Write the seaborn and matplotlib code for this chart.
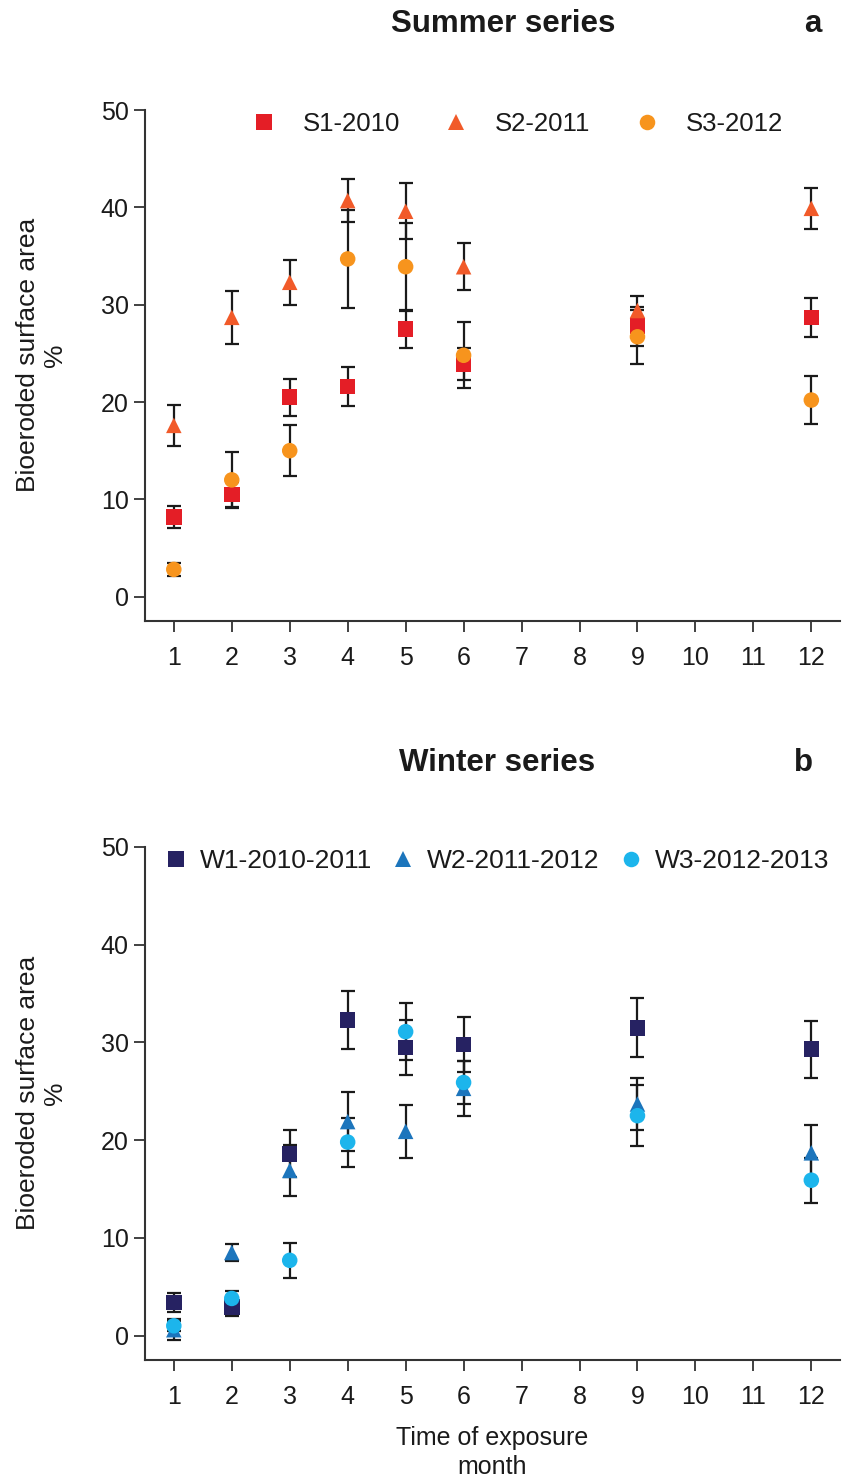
import pandas as pd
import seaborn as sns
import matplotlib.pyplot as plt
import numpy as np

months = [1, 2, 3, 4, 5, 6, 9, 12]

# summer series (mean, error)
s1 = [8.2, 10.5, 20.5, 21.6, 27.5, 23.9, 27.8, 28.7]
s1_err = [1.1, 1.3, 1.9, 2.0, 2.0, 1.6, 2.0, 2.0]
s2 = [17.6, 28.7, 32.3, 40.7, 39.6, 33.9, 29.4, 39.9]
s2_err = [2.1, 2.7, 2.3, 2.2, 2.9, 2.4, 1.5, 2.1]
s3 = [2.8, 12.0, 15.0, 34.7, 33.9, 24.8, 26.7, 20.2]
s3_err = [0.7, 2.9, 2.6, 5.0, 4.5, 3.4, 2.8, 2.5]

# winter series
w1 = [3.4, 2.9, 18.6, 32.3, 29.5, 29.8, 31.5, 29.3]
w1_err = [1.0, 0.9, 2.4, 3.0, 2.8, 2.8, 3.0, 2.9]
w2 = [0.6, 8.5, 16.9, 21.9, 20.9, 25.3, 23.7, 18.7]
w2_err = [1.1, 0.9, 2.6, 3.0, 2.7, 2.8, 2.7, 2.8]
w3 = [1.0, 3.8, 7.7, 19.8, 31.1, 25.9, 22.5, 15.9]
w3_err = [0.5, 0.8, 1.8, 2.5, 2.9, 2.2, 3.1, 2.3]

summer_names = ["S1-2010", "S2-2011", "S3-2012"]
winter_names = ["W1-2010-2011", "W2-2011-2012", "W3-2012-2013"]
summer_colors = ["#E41E26", "#F15A29", "#F7941D"]
winter_colors = ["#262262", "#1C75BC", "#1CB5EC"]
marker_list = ["s", "^", "o"]

sns.set_style("ticks")
plt.rcParams["font.family"] = ["Liberation Sans", "DejaVu Sans"]
plt.rcParams["text.color"] = "#1a1a1a"
plt.rcParams["axes.labelcolor"] = "#1a1a1a"
plt.rcParams["xtick.labelcolor"] = "#1a1a1a"
plt.rcParams["ytick.labelcolor"] = "#1a1a1a"


def build(names, vals, errs):
    rows = []
    for n, v, e in zip(names, vals, errs):
        for m, y, er in zip(months, v, e):
            rows.append({"month": m, "value": y, "err": er, "series": n})
    return pd.DataFrame(rows)


summer = build(summer_names, [s1, s2, s3], [s1_err, s2_err, s3_err])
winter = build(winter_names, [w1, w2, w3], [w1_err, w2_err, w3_err])

fig = plt.figure(figsize=(8.42, 14.81), dpi=100)
ax1 = fig.add_axes([0.172, 0.5807, 0.826, 0.345])
ax2 = fig.add_axes([0.172, 0.0817, 0.826, 0.3464])


def panel(ax, df, names, colors, leg_x, spacing, pad, legsize):
    for n in names:
        d = df[df.series == n]
        ax.errorbar(d.month, d.value, yerr=d.err, fmt="none", ecolor="#1a1a1a",
                    elinewidth=1.6, capsize=5, capthick=1.6, zorder=2)
    sns.scatterplot(data=df, x="month", y="value", hue="series", style="series",
                    hue_order=names, style_order=names,
                    palette=dict(zip(names, colors)),
                    markers=dict(zip(names, marker_list)),
                    s=125, edgecolor="none", linewidth=0, ax=ax, zorder=3)
    ax.set_xlim(0.5, 12.5)
    ax.set_ylim(-2.5, 50)
    ax.set_xticks(range(1, 13))
    ax.set_yticks([0, 10, 20, 30, 40, 50])
    ax.tick_params(axis="both", direction="out", length=8, width=1.3,
                   color="#333333", labelsize=18)
    ax.tick_params(axis="x", pad=10)
    for side in ["top", "right"]:
        ax.spines[side].set_visible(False)
    for side in ["left", "bottom"]:
        ax.spines[side].set_linewidth(1.5)
        ax.spines[side].set_color("#333333")
    ax.set_ylabel("Bioeroded surface area\n%", fontsize=19, linespacing=1.15)
    ax.yaxis.set_label_coords(-0.112, 0.52)
    ax.set_xlabel("")
    sns.move_legend(ax, "center", bbox_to_anchor=(leg_x, 0.972), ncol=3,
                    frameon=False, title=None, fontsize=legsize,
                    handletextpad=pad, columnspacing=spacing,
                    handlelength=1.0, markerscale=1.0)


panel(ax1, summer, summer_names, summer_colors, 0.535, 1.7, 1.0, 18.5)
panel(ax2, winter, winter_names, winter_colors, 0.505, 0.7, 0.4, 19)

ax2.set_xlabel("Time of exposure\nmonth", fontsize=18, linespacing=1.3,
               labelpad=12)

fig.text(503 / 842, 1 - 24 / 1481, "Summer series", ha="center", va="center",
         fontsize=22.5, fontweight="bold")
fig.text(813 / 842, 1 - 24 / 1481, "a", ha="center", va="center",
         fontsize=22.5, fontweight="bold")
fig.text(497 / 842, 1 - 763 / 1481, "Winter series", ha="center", va="center",
         fontsize=22.5, fontweight="bold")
fig.text(803 / 842, 1 - 763 / 1481, "b", ha="center", va="center",
         fontsize=22.5, fontweight="bold")

fig.savefig("out.png", dpi=100)
